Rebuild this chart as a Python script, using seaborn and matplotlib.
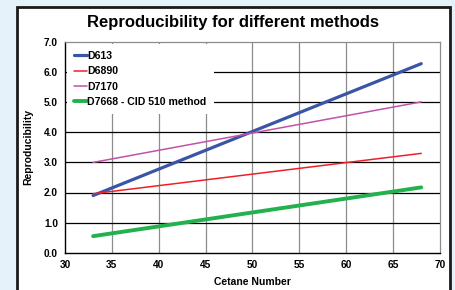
#!/usr/bin/env python3
"""Reproducibility vs cetane number for different methods."""
import matplotlib

matplotlib.use("Agg")
import matplotlib.pyplot as plt
import pandas as pd
import seaborn as sns
from matplotlib.patches import Rectangle

cetane = [33, 68]
d613 = [1.90, 6.28]
d6890 = [1.96, 3.30]
d7170 = [3.00, 5.01]
d7668 = [0.55, 2.17]

methods = ["D613", "D6890", "D7170", "D7668 - CID 510 method"]
colors = ["#3a55a6", "#ee2027", "#c152aa", "#22b14c"]
widths = [2.3, 1.1, 1.1, 2.8]

x_ticks = [30, 35, 40, 45, 50, 55, 60, 65, 70]
y_ticks = [0.0, 1.0, 2.0, 3.0, 4.0, 5.0, 6.0, 7.0]

df = pd.DataFrame(
    {
        "cetane": cetane * 4,
        "value": d613 + d6890 + d7170 + d7668,
        "method": [m for m in methods for _ in cetane],
    }
)

sns.set_style("white")
plt.rcParams["font.family"] = ["Liberation Sans", "DejaVu Sans"]
plt.rcParams["font.weight"] = "bold"
plt.rcParams["text.color"] = "black"
plt.rcParams["axes.labelcolor"] = "black"
plt.rcParams["xtick.color"] = "black"
plt.rcParams["ytick.color"] = "black"

fig = plt.figure(figsize=(4.55, 2.9), dpi=100)
fig.patch.set_facecolor("#e6f2fa")

# white card with dark frame
fig.patches.append(
    Rectangle((16.5 / 455, -0.05), 433.5 / 455, 1 - 7 / 290 + 0.05,
              transform=fig.transFigure, facecolor="white",
              edgecolor="#1a1a1a", linewidth=2.0, zorder=-5)
)

ax = fig.add_axes([65 / 455, 1 - 252.7 / 290, 375 / 455, 210.7 / 290])
ax.set_zorder(2)
ax.set_facecolor("white")

for m, c, w in zip(methods, colors, widths):
    sns.lineplot(data=df[df["method"] == m], x="cetane", y="value",
                 color=c, linewidth=w, label=m, ax=ax, zorder=3)

ax.set_xlim(30, 70)
ax.set_ylim(0, 7)
ax.set_xticks(x_ticks)
ax.set_yticks(y_ticks)
ax.set_yticklabels([f"{v:.1f}" for v in y_ticks])
ax.tick_params(axis="both", labelsize=7.3, length=3, width=0.8, color="black",
               pad=2, direction="out")
for lbl in ax.get_xticklabels() + ax.get_yticklabels():
    lbl.set_fontweight("bold")

ax.grid(False)
for v in x_ticks[1:-1]:
    ax.axvline(v, color="#8c8c8c", linewidth=0.9, zorder=1)
for v in y_ticks[1:-1]:
    ax.axhline(v, color="black", linewidth=0.9, zorder=1)

for side in ["left", "bottom"]:
    ax.spines[side].set_color("black")
    ax.spines[side].set_linewidth(1.0)
for side in ["top", "right"]:
    ax.spines[side].set_color("#8c8c8c")
    ax.spines[side].set_linewidth(0.9)

ax.set_xlabel("Cetane Number", fontsize=7.5, fontweight="bold", labelpad=5)
ax.set_ylabel("Reproducibility", fontsize=7.5, fontweight="bold", labelpad=8)

leg = ax.legend(loc="upper left", bbox_to_anchor=(0.0, 1.0), frameon=True,
                facecolor="white", edgecolor="none", framealpha=1.0,
                fancybox=False, handlelength=1.25,
                handletextpad=0.0, labelspacing=0.5, borderpad=0.7,
                borderaxespad=0.15, prop={"weight": "bold", "size": 7.6})
leg.set_zorder(2)

fig.text(233 / 455, 1 - 22.5 / 290, "Reproducibility for different methods",
         ha="center", va="center", fontsize=12, fontweight="bold")

fig.savefig("out.png", dpi=100)
